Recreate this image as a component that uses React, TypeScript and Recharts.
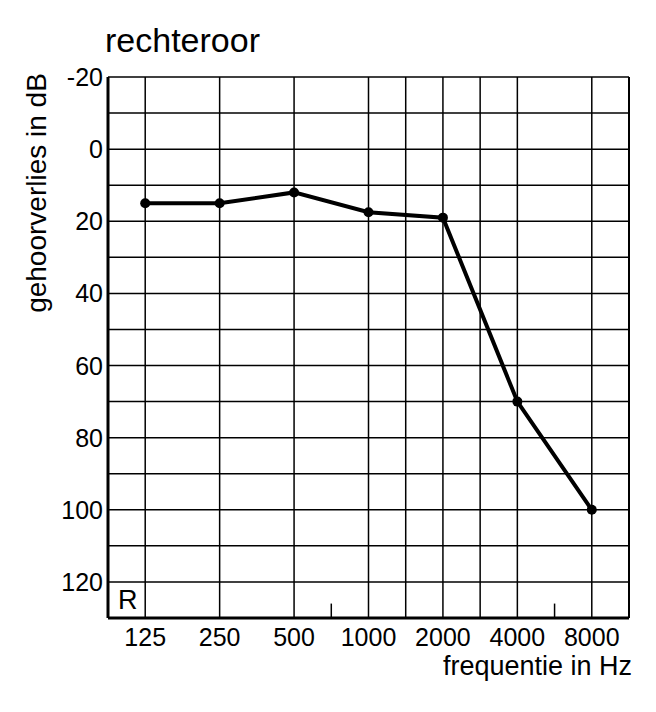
import React from 'react'
import {
  LineChart,
  Line,
  XAxis,
  YAxis,
  CartesianGrid,
  ReferenceLine,
} from 'recharts'

// octave index: 0 = 125 Hz ... 6 = 8000 Hz
const freqLabels = ['125', '250', '500', '1000', '2000', '4000', '8000']
const octaves = [0, 1, 2, 3, 4, 5, 6]
const hearingLoss = [15, 15, 12, 17.5, 19, 70, 100]

const xGridTicks = [0, 1, 2, 3, 3.5, 4, 4.5, 5, 6]
const shortTicks = [2.5, 5.5]
const yGridTicks = [-20, -10, 0, 10, 20, 30, 40, 50, 60, 70, 80, 90, 100, 110, 120]

const data = octaves.map((o, i) => ({ oct: o, db: hearingLoss[i] }))

const FONT = '"Liberation Sans", Arial, Helvetica, sans-serif'

const XTick = ({ x, y, payload }: any) => {
  const v = payload.value
  if (!Number.isInteger(v)) return null
  return (
    <text x={x} y={y + 28} textAnchor="middle" fontSize={25} fontFamily={FONT} fill="#000">
      {freqLabels[v]}
    </text>
  )
}

const YTick = ({ x, y, payload }: any) => {
  const v = payload.value
  if (v % 20 !== 0) return null
  return (
    <text x={x + 1} y={y + 9} textAnchor="end" fontSize={25} fontFamily={FONT} fill="#000">
      {v}
    </text>
  )
}

export default function App() {
  return (
    <div style={{ position: 'absolute', left: 0, top: 0, width: 656, height: 712, background: '#fff' }}>
      <LineChart
        width={656}
        height={712}
        data={data}
        margin={{ top: 77, right: 27, bottom: 0, left: 0 }}
      >
        <CartesianGrid stroke="#000" strokeWidth={1.5} />
        <XAxis
          type="number"
          dataKey="oct"
          domain={[-0.5, 6.5]}
          ticks={xGridTicks}
          interval={0}
          height={94}
          tickLine={false}
          tickSize={0}
          tickMargin={0}
          axisLine={{ stroke: '#000', strokeWidth: 3 }}
          tick={<XTick />}
        />
        <YAxis
          type="number"
          reversed
          domain={[-20, 130]}
          ticks={yGridTicks}
          interval={0}
          width={108}
          tickLine={false}
          tickSize={0}
          tickMargin={6}
          axisLine={{ stroke: '#000', strokeWidth: 3 }}
          tick={<YTick />}
        />
        <ReferenceLine x={6.5} stroke="#000" strokeWidth={2} />
        {shortTicks.map(t => (
          <ReferenceLine
            key={t}
            segment={[{ x: t, y: 126 }, { x: t, y: 130 }]}
            stroke="#000"
            strokeWidth={1.5}
          />
        ))}
        <Line
          dataKey="db"
          stroke="#000"
          strokeWidth={4}
          dot={{ r: 5, fill: '#000', stroke: '#000', strokeWidth: 0 }}
          isAnimationActive={false}
        />
      </LineChart>
      <svg
        width={656}
        height={712}
        style={{ position: 'absolute', left: 0, top: 0, pointerEvents: 'none' }}
        fontFamily={FONT}
        fill="#000"
      >
        <text x={105} y={52} fontSize={34}>rechteroor</text>
        <text x={46} y={193} fontSize={28} textAnchor="middle" transform="rotate(-90, 46, 193)">
          gehoorverlies in dB
        </text>
        <text x={632} y={675} fontSize={27} textAnchor="end">frequentie in Hz</text>
        <text x={118} y={609} fontSize={27}>R</text>
      </svg>
    </div>
  )
}
